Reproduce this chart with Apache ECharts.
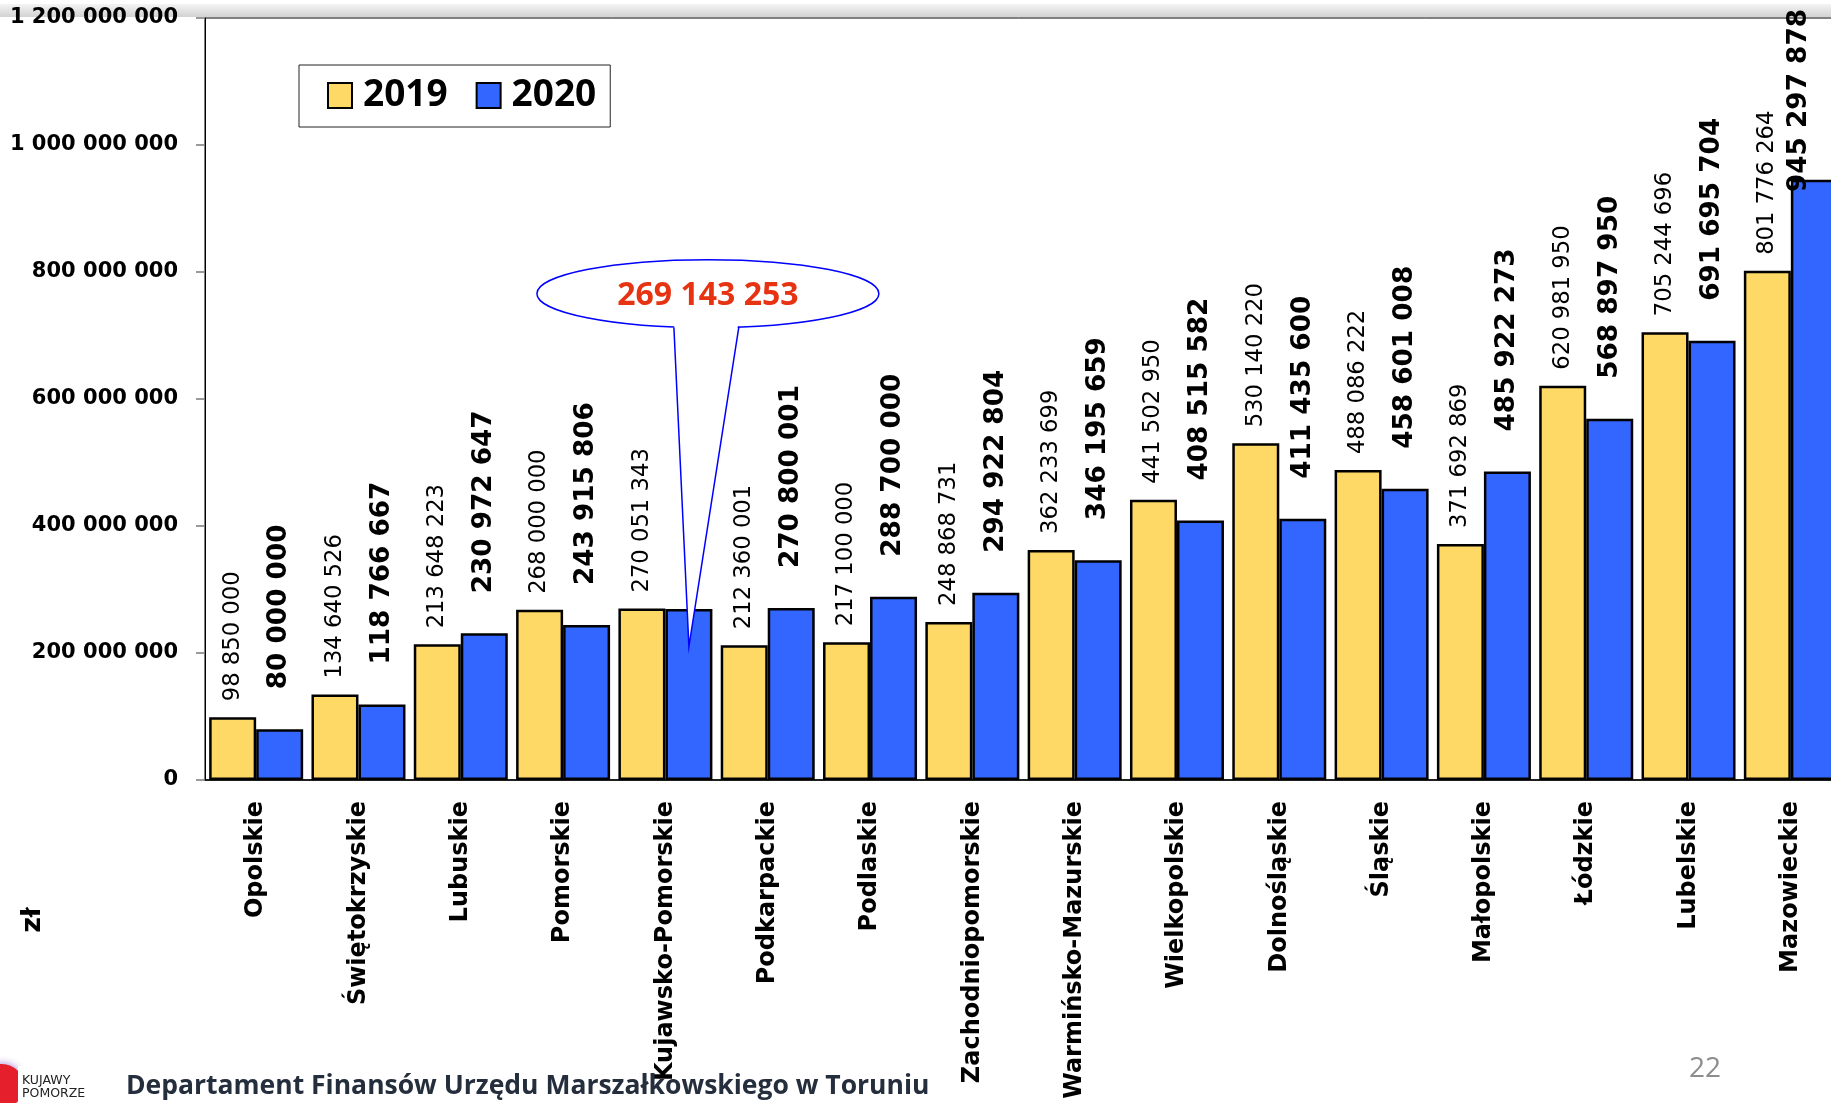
<!DOCTYPE html>
<html>
<head>
<meta charset="utf-8">
<script src="https://cdn.jsdelivr.net/npm/echarts@6/dist/echarts.min.js"></script>
<style>
  html, body { margin: 0; padding: 0; background: #ffffff; }
  #chart { width: 1831px; height: 1103px; }
</style>
</head>
<body>
<div id="chart"></div>
<script>
// ---- data ----
const categories = [
  'Opolskie', 'Świętokrzyskie', 'Lubuskie', 'Pomorskie', 'Kujawsko-Pomorskie',
  'Podkarpackie', 'Podlaskie', 'Zachodniopomorskie', 'Warmińsko-Mazurskie',
  'Wielkopolskie', 'Dolnośląskie', 'Śląskie', 'Małopolskie', 'Łódzkie',
  'Lubelskie', 'Mazowieckie'
];
const seriesNames = ['2019', '2020'];
const values2019 = [
  98850000, 134640526, 213648223, 268000000, 270051343,
  212360001, 217100000, 248868731, 362233699,
  441502950, 530140220, 488086222, 371692869, 620981950,
  705244696, 801776264
];
const values2020 = [
  80000000, 118766667, 230972647, 243915806, 269143253,
  270800001, 288700000, 294922804, 346195659,
  408515582, 411435600, 458601008, 485922273, 568897950,
  691695704, 945297878
];
const yAxisMin = 0;
const yAxisMax = 1200000000;
const yAxisInterval = 200000000;
const calloutIndex = 4;              // Kujawsko-Pomorskie 2020 shown in callout
const calloutTipValue = 210000000;   // value where the callout tip points
const unitLabel = 'zł';
const footerText = 'Departament Finansów Urzędu Marszałkowskiego w Toruniu';
const pageNumber = '22';
const logoLines = ['KUJAWY', 'POMORZE'];

const fmt = v => String(v).replace(/\B(?=(\d{3})+(?!\d))/g, ' ');

const YELLOW = '#FFD966';
const BLUE = '#3366FF';
const BAR_W = 47;

const chart = echarts.init(document.getElementById('chart'));
const W = 1831;

const data2020 = values2020.map((v, i) =>
  i === calloutIndex ? { value: v, label: { show: false } } : v
);

const option = {
  backgroundColor: '#ffffff',
  animation: false,
  grid: {
    left: 205, top: 18, width: 1637, height: 762,
    outerBoundsMode: 'none', containLabel: false,
    show: true, borderColor: '#000', borderWidth: 1, backgroundColor: 'transparent'
  },
  legend: {
    left: 299, top: 65,
    orient: 'horizontal',
    padding: [12, 14, 13, 28],
    itemGap: 28,
    itemWidth: 24, itemHeight: 25,
    icon: 'rect',
    backgroundColor: '#fff',
    borderColor: '#222', borderWidth: 1,
    itemStyle: { borderColor: '#000', borderWidth: 2 },
    textStyle: { fontFamily: 'Open Sans', fontWeight: 'bold', fontSize: 37, color: '#000', padding: [0, 0, 0, 6] },
    data: seriesNames
  },
  xAxis: {
    type: 'category',
    data: categories,
    axisLine: { lineStyle: { color: '#000', width: 1.5 } },
    axisTick: { show: false },
    axisLabel: {
      rotate: 90, margin: 21, interval: 0,
      fontFamily: 'DejaVu Sans', fontWeight: 'bold', fontSize: 24, color: '#000'
    }
  },
  yAxis: {
    type: 'value',
    min: yAxisMin, max: yAxisMax, interval: yAxisInterval,
    axisLine: { show: true, lineStyle: { color: '#000', width: 1 } },
    axisTick: { show: true, length: 9, lineStyle: { color: '#7a7a7a', width: 1.5 } },
    splitLine: { show: false },
    axisLabel: {
      margin: 27, formatter: fmt,
      fontFamily: 'DejaVu Sans', fontWeight: 'bold', fontSize: 21, color: '#000'
    }
  },
  series: [
    {
      name: seriesNames[0], type: 'bar', data: values2019,
      barWidth: BAR_W, barGap: '0%',
      itemStyle: { color: YELLOW, borderColor: '#000', borderWidth: 2.5 },
      label: {
        show: true, position: 'top', distance: 16, rotate: 90,
        align: 'left', verticalAlign: 'middle',
        formatter: p => fmt(p.value),
        fontFamily: 'DejaVu Sans', fontSize: 22.7, color: '#000'
      }
    },
    {
      name: seriesNames[1], type: 'bar', data: data2020,
      barWidth: BAR_W, barGap: '0%',
      itemStyle: { color: BLUE, borderColor: '#000', borderWidth: 2.5 },
      label: {
        show: true, position: 'top', distance: 40, rotate: 90,
        align: 'left', verticalAlign: 'middle',
        formatter: p => fmt(p.value),
        fontFamily: 'DejaVu Sans', fontWeight: 'bold', fontSize: 26.3, color: '#000'
      },
      labelLayout: function (p) {
        const r = p.labelRect;
        const out = {};
        if (r.y < 9) out.y = r.height + 9;
        if (r.x + r.width > W - 19) out.x = W - 19 - r.width / 2;
        return out;
      }
    }
  ],
  graphic: []
};

chart.setOption(option);

// callout anchored to the Kujawsko-Pomorskie 2020 bar
const tip = chart.convertToPixel({ xAxisIndex: 0, yAxisIndex: 0 }, [calloutIndex, calloutTipValue]);
const tx = tip[0] + BAR_W / 2;
const ty = tip[1];
const ecx = tx + 19, ecy = ty - 353;

chart.setOption({
  graphic: [
    {
      type: 'rect', z: -10, silent: true,
      shape: { x: 0, y: 4, width: W, height: 13 },
      style: {
        fill: new echarts.graphic.LinearGradient(0, 0, 0, 1, [
          { offset: 0, color: '#f4f4f4' }, { offset: 1, color: '#d2d2d2' }
        ])
      }
    },
    {
      type: 'ellipse', z: 100,
      shape: { cx: ecx, cy: ecy, rx: 171, ry: 34 },
      style: { fill: '#fff', stroke: '#0000FF', lineWidth: 1.5 }
    },
    {
      type: 'polygon', z: 101,
      shape: { points: [[tx - 15, ecy + 26], [tx + 50, ecy + 25], [tx, ty]] },
      style: { fill: '#fff' }
    },
    {
      type: 'polyline', z: 102,
      shape: { points: [[tx - 15, ecy + 34], [tx, ty], [tx + 50, ecy + 33]] },
      style: { stroke: '#0000FF', lineWidth: 1.5, fill: null }
    },
    {
      type: 'text', z: 103,
      style: {
        text: fmt(values2020[calloutIndex]), x: ecx, y: ecy + 2,
        align: 'center', verticalAlign: 'middle',
        fontFamily: 'Open Sans', fontWeight: 'bold', fontSize: 32, fill: '#E63312'
      }
    },
    {
      type: 'text', z: 50,
      x: 33, y: 920, rotation: Math.PI / 2,
      style: {
        text: unitLabel, x: 0, y: 0, align: 'center', verticalAlign: 'middle',
        fontFamily: 'DejaVu Sans', fontWeight: 'bold', fontSize: 27, fill: '#000'
      }
    },
    {
      type: 'text', z: 50,
      style: {
        text: footerText, x: 126, y: 1086, align: 'left', verticalAlign: 'middle',
        fontFamily: 'Open Sans', fontWeight: 'bold', fontSize: 26.5, fill: '#252e3c'
      }
    },
    {
      type: 'text', z: 50,
      style: {
        text: pageNumber, x: 1705, y: 1069, align: 'center', verticalAlign: 'middle',
        fontFamily: 'Open Sans', fontSize: 28, fill: '#8c8c8c'
      }
    },
    {
      type: 'circle', z: 40,
      shape: { cx: 2, cy: 1086, r: 22 },
      style: { fill: '#e5202c', shadowBlur: 8, shadowColor: 'rgba(120,60,200,0.7)' }
    },
    {
      type: 'rect', z: 41,
      shape: { x: 18, y: 1066, width: 80, height: 37 },
      style: { fill: '#fff' }
    },
    {
      type: 'text', z: 42,
      style: {
        text: logoLines[0], x: 22, y: 1081, align: 'left', verticalAlign: 'middle',
        fontFamily: 'DejaVu Sans', fontSize: 12.5, fill: '#222'
      }
    },
    {
      type: 'text', z: 42,
      style: {
        text: logoLines[1], x: 22, y: 1093.5, align: 'left', verticalAlign: 'middle',
        fontFamily: 'DejaVu Sans', fontSize: 12.5, fill: '#222'
      }
    }
  ]
});
</script>
</body>
</html>
